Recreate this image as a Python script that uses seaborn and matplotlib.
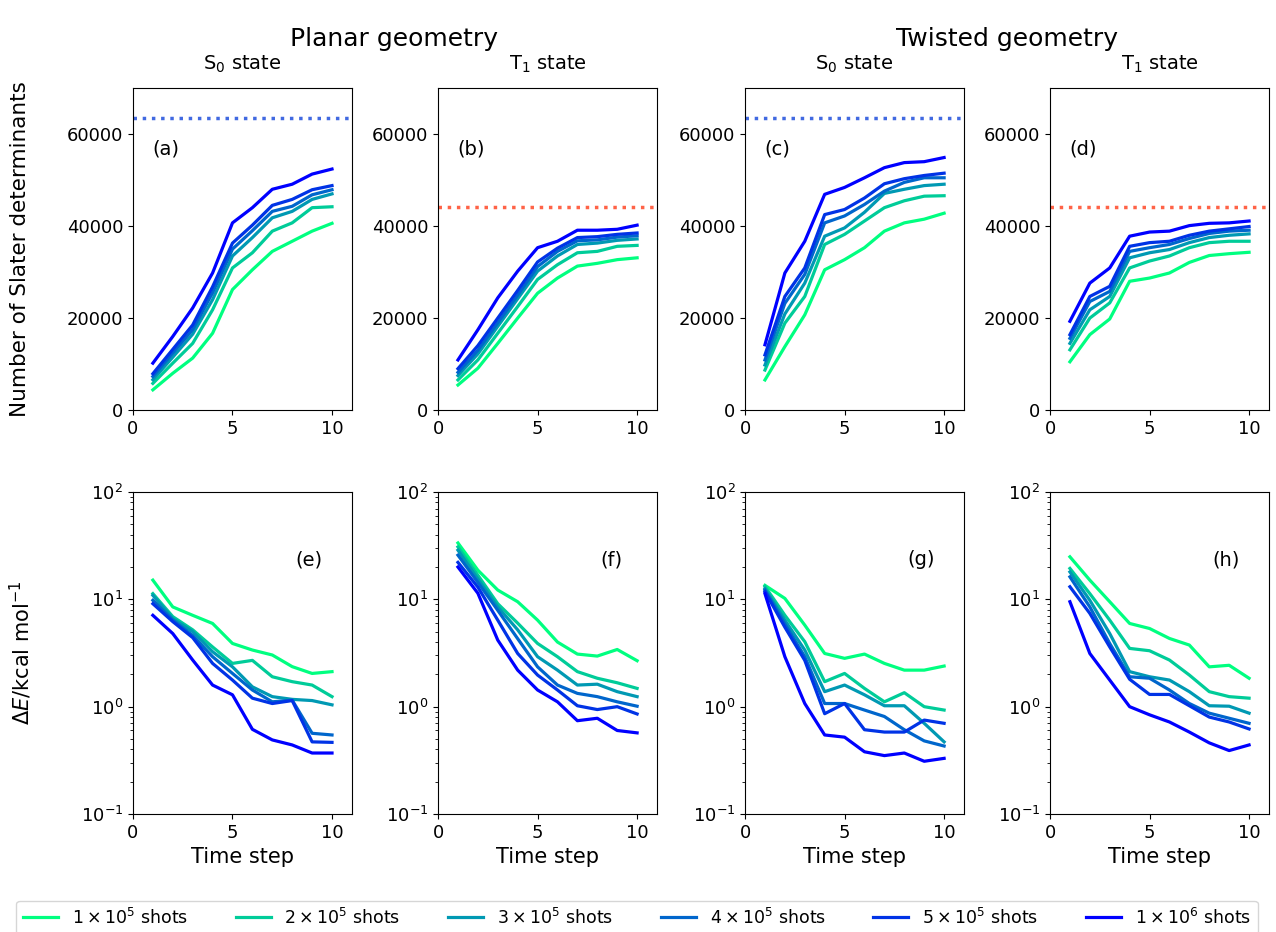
import numpy as np
import pandas as pd
import matplotlib.pyplot as plt
import seaborn as sns

steps = list(range(1, 11))
shot_labels = [r'$1\times10^5$ shots', r'$2\times10^5$ shots', r'$3\times10^5$ shots',
               r'$4\times10^5$ shots', r'$5\times10^5$ shots', r'$1\times10^6$ shots']

# number of Slater determinants, one list per shot count
dets_a = [
    [4400, 8000, 11300, 16700, 26200, 30500, 34500, 36700, 38900, 40600],
    [5800, 10200, 14500, 21800, 30900, 34200, 38900, 40700, 44000, 44200],
    [6600, 11500, 16500, 24000, 33500, 37500, 41800, 43200, 45800, 47000],
    [7300, 12400, 17500, 25500, 35000, 39000, 43200, 44300, 46800, 47900],
    [7900, 13200, 18500, 26800, 36300, 40200, 44500, 45800, 47900, 48800],
    [10200, 16000, 22200, 29800, 40700, 44000, 48000, 49100, 51300, 52400],
]
dets_b = [
    [5450, 9100, 14500, 20000, 25400, 28700, 31300, 31900, 32700, 33100],
    [6550, 10900, 16700, 22500, 28400, 31600, 34200, 34500, 35600, 35800],
    [7500, 12200, 18200, 24200, 30200, 33500, 36000, 36300, 36900, 37200],
    [8200, 13000, 19000, 25000, 31200, 34500, 36800, 37000, 37600, 37900],
    [9000, 14000, 20000, 26000, 32200, 35200, 37500, 37700, 38200, 38500],
    [10900, 17450, 24400, 30200, 35300, 36700, 39100, 39100, 39300, 40200],
]
dets_c = [
    [6550, 13800, 20700, 30500, 32700, 35300, 38900, 40700, 41500, 42800],
    [8700, 18900, 24700, 36000, 38200, 41100, 44000, 45500, 46500, 46600],
    [9800, 20900, 27600, 37800, 39600, 43000, 47100, 48000, 48800, 49100],
    [10900, 23200, 29500, 40700, 42200, 44700, 47600, 49500, 50500, 50500],
    [12000, 24700, 30900, 42500, 43600, 46100, 49200, 50300, 51000, 51500],
    [14200, 29800, 36700, 46900, 48400, 50500, 52700, 53800, 54000, 54900],
]
dets_d = [
    [10500, 16400, 19800, 28000, 28700, 29800, 32100, 33600, 34000, 34300],
    [13100, 20000, 23300, 30900, 32400, 33500, 35300, 36400, 36700, 36700],
    [14500, 21800, 24700, 33100, 34200, 34900, 36400, 37500, 38000, 38300],
    [15600, 23600, 25800, 34500, 35300, 36000, 37300, 38400, 38900, 39100],
    [16400, 24700, 26900, 35600, 36400, 36700, 38000, 38900, 39400, 39900],
    [19300, 27600, 30900, 37800, 38700, 38900, 40100, 40600, 40700, 41100],
]

# energy error in kcal/mol
err_e = [
    [15.1, 8.5, 7.1, 5.96, 3.88, 3.37, 3.03, 2.36, 2.04, 2.12],
    [11.3, 6.9, 5.2, 3.6, 2.53, 2.7, 1.9, 1.71, 1.59, 1.24],
    [10.9, 6.6, 5.0, 3.25, 2.35, 1.53, 1.24, 1.17, 1.14, 1.04],
    [9.8, 6.4, 4.6, 2.92, 2.04, 1.43, 1.11, 1.15, 0.565, 0.545],
    [9.1, 6.2, 4.4, 2.53, 1.77, 1.20, 1.07, 1.14, 0.47, 0.465],
    [7.1, 4.8, 2.72, 1.59, 1.29, 0.615, 0.49, 0.44, 0.37, 0.37],
]
err_f = [
    [33.5, 18.7, 12.2, 9.5, 6.4, 4.0, 3.09, 2.96, 3.41, 2.68],
    [30.8, 16.8, 9.1, 6.0, 3.88, 2.92, 2.12, 1.84, 1.67, 1.48],
    [28.7, 15.5, 8.5, 5.2, 2.92, 2.19, 1.59, 1.62, 1.38, 1.24],
    [25.8, 14.4, 7.9, 4.3, 2.35, 1.59, 1.33, 1.24, 1.11, 1.01],
    [22.1, 13.0, 6.4, 3.13, 1.97, 1.43, 1.02, 0.94, 1.0, 0.855],
    [20.0, 11.4, 4.17, 2.19, 1.43, 1.11, 0.74, 0.78, 0.60, 0.57],
]
err_g = [
    [13.5, 10.2, 5.75, 3.13, 2.82, 3.09, 2.53, 2.19, 2.19, 2.39],
    [13.2, 7.1, 4.03, 1.71, 2.04, 1.48, 1.11, 1.35, 1.00, 0.93],
    [12.6, 6.4, 3.37, 1.38, 1.59, 1.29, 1.02, 1.02, 0.70, 0.47],
    [12.2, 5.9, 2.92, 1.07, 1.07, 0.93, 0.81, 0.61, 0.48, 0.43],
    [11.8, 5.5, 2.7, 0.86, 1.07, 0.61, 0.58, 0.58, 0.75, 0.70],
    [11.3, 2.92, 1.07, 0.545, 0.52, 0.38, 0.35, 0.37, 0.31, 0.33],
]
err_h = [
    [24.9, 15.1, 9.5, 5.96, 5.35, 4.32, 3.75, 2.35, 2.43, 1.84],
    [19.4, 11.3, 6.4, 3.49, 3.32, 2.72, 1.97, 1.38, 1.24, 1.20],
    [18.0, 9.8, 4.8, 2.12, 1.90, 1.77, 1.38, 1.02, 1.01, 0.87],
    [16.2, 8.5, 3.88, 1.90, 1.84, 1.43, 1.07, 0.87, 0.78, 0.70],
    [13.1, 7.4, 3.6, 1.80, 1.30, 1.30, 1.02, 0.80, 0.72, 0.62],
    [9.5, 3.13, 1.77, 1.0, 0.84, 0.72, 0.58, 0.46, 0.39, 0.44],
]

full_space = [63504, 44100, 63504, 44100]   # FCI space size, S0 / T1
col_titles = ['S$_0$ state', 'T$_1$ state', 'S$_0$ state', 'T$_1$ state']
top_tags = ['(a)', '(b)', '(c)', '(d)']
bot_tags = ['(e)', '(f)', '(g)', '(h)']

palette = [plt.cm.winter(v) for v in [1.0, 0.8, 0.6, 0.4, 0.2, 0.0]]


def to_long(series):
    rows = []
    for lab, vals in zip(shot_labels, series):
        for s, v in zip(steps, vals):
            rows.append((s, v, lab))
    return pd.DataFrame(rows, columns=['step', 'value', 'shots'])


fig = plt.figure(figsize=(12.76, 9.32), dpi=100)
plt.rcParams['font.size'] = 13

lefts = [0.1042, 0.3433, 0.5839, 0.8229]
w, h = 0.1716, 0.3455

top_data = [dets_a, dets_b, dets_c, dets_d]
bot_data = [err_e, err_f, err_g, err_h]

for i in range(4):
    ax = fig.add_axes([lefts[i], 0.560, w, h])
    sns.lineplot(data=to_long(top_data[i]), x='step', y='value', hue='shots',
                 palette=palette, linewidth=2.3, ax=ax, legend=(i == 0))
    dot_col = 'royalblue' if i % 2 == 0 else 'tomato'
    ax.axhline(full_space[i], color=dot_col, linestyle=':', linewidth=2.5)
    ax.set_xlim(0, 11)
    ax.set_ylim(0, 70000)
    ax.set_xticks([0, 5, 10])
    ax.set_yticks([0, 20000, 40000, 60000])
    ax.tick_params(labelsize=13)
    ax.set_xlabel('')
    ax.set_ylabel('Number of Slater determinants' if i == 0 else '', fontsize=15.5)
    ax.yaxis.set_label_coords(-0.47, 0.5)
    ax.set_title(col_titles[i], fontsize=14, pad=13)
    ax.text(0.09, 0.81, top_tags[i], transform=ax.transAxes, fontsize=14, va='center')
    if i == 0:
        handles, labels = ax.get_legend_handles_labels()
        ax.get_legend().remove()

    bx = fig.add_axes([lefts[i], 0.1266, w, h])
    sns.lineplot(data=to_long(bot_data[i]), x='step', y='value', hue='shots',
                 palette=palette, linewidth=2.3, ax=bx, legend=False)
    bx.set_yscale('log')
    bx.set_xlim(0, 11)
    bx.set_ylim(0.1, 100)
    bx.set_xticks([0, 5, 10])
    bx.tick_params(labelsize=13)
    bx.set_xlabel('Time step', fontsize=15)
    bx.set_ylabel(r'$\Delta E$/kcal mol$^{-1}$' if i == 0 else '', fontsize=15)
    bx.yaxis.set_label_coords(-0.45, 0.5)
    bx.text(0.74, 0.79, bot_tags[i], transform=bx.transAxes, fontsize=14, va='center')

fig.text(0.309, 0.958, 'Planar geometry', ha='center', va='center', fontsize=18)
fig.text(0.789, 0.958, 'Twisted geometry', ha='center', va='center', fontsize=18)

fig.legend(handles=handles, labels=labels, loc='lower left', bbox_to_anchor=(0.006, -0.012),
           ncol=6, fontsize=12.5, handlelength=2.0, handletextpad=0.8,
           columnspacing=2.75, frameon=True)

plt.savefig('out.png', dpi=100)
